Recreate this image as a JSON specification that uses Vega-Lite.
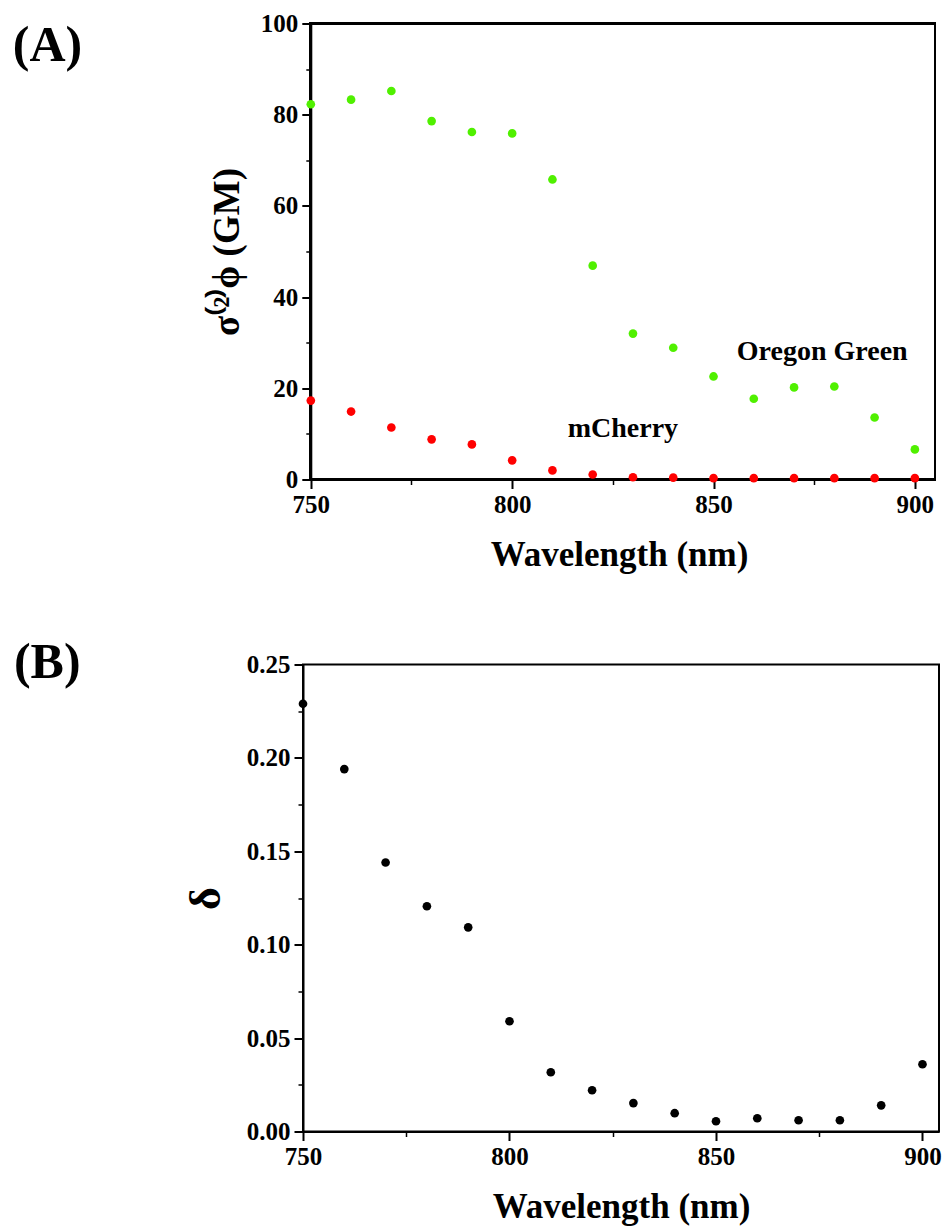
{
  "$schema": "https://vega.github.io/schema/vega-lite/v6.json",
  "padding": {"left": 12, "top": 11.5, "right": 2, "bottom": 2},
  "background": "white",
  "spacing": 64,
  "config": {
    "font": "Liberation Serif",
    "view": {"stroke": "black", "strokeWidth": 2},
    "axis": {
      "labelFont": "Liberation Serif", "labelFontWeight": "bold", "labelFontSize": 25, "labelColor": "black",
      "titleFont": "Liberation Serif", "titleFontWeight": "bold", "titleFontSize": 35, "titleColor": "black",
      "domainColor": "black", "domainWidth": 2, "tickColor": "black", "tickWidth": 2, "grid": false,
      "labelPadding": 4, "labelOverlap": false, "labelFlush": false
    },
    "text": {"font": "Liberation Serif", "fontWeight": "bold", "color": "black"}
  },
  "vconcat": [
    {
      "width": 632, "height": 456,
      "view": {"stroke": null},
      "data": {"values": [
        {"wl": 750, "value": 82.3, "series": "Oregon Green"},
        {"wl": 760, "value": 83.3, "series": "Oregon Green"},
        {"wl": 770, "value": 85.2, "series": "Oregon Green"},
        {"wl": 780, "value": 78.6, "series": "Oregon Green"},
        {"wl": 790, "value": 76.2, "series": "Oregon Green"},
        {"wl": 800, "value": 75.9, "series": "Oregon Green"},
        {"wl": 810, "value": 65.8, "series": "Oregon Green"},
        {"wl": 820, "value": 46.9, "series": "Oregon Green"},
        {"wl": 830, "value": 32.0, "series": "Oregon Green"},
        {"wl": 840, "value": 28.9, "series": "Oregon Green"},
        {"wl": 850, "value": 22.6, "series": "Oregon Green"},
        {"wl": 860, "value": 17.7, "series": "Oregon Green"},
        {"wl": 870, "value": 20.2, "series": "Oregon Green"},
        {"wl": 880, "value": 20.4, "series": "Oregon Green"},
        {"wl": 890, "value": 13.6, "series": "Oregon Green"},
        {"wl": 900, "value": 6.6, "series": "Oregon Green"},
        {"wl": 750, "value": 17.3, "series": "mCherry"},
        {"wl": 760, "value": 14.9, "series": "mCherry"},
        {"wl": 770, "value": 11.4, "series": "mCherry"},
        {"wl": 780, "value": 8.8, "series": "mCherry"},
        {"wl": 790, "value": 7.7, "series": "mCherry"},
        {"wl": 800, "value": 4.2, "series": "mCherry"},
        {"wl": 810, "value": 2.0, "series": "mCherry"},
        {"wl": 820, "value": 1.1, "series": "mCherry"},
        {"wl": 830, "value": 0.5, "series": "mCherry"},
        {"wl": 840, "value": 0.4, "series": "mCherry"},
        {"wl": 850, "value": 0.3, "series": "mCherry"},
        {"wl": 860, "value": 0.3, "series": "mCherry"},
        {"wl": 870, "value": 0.3, "series": "mCherry"},
        {"wl": 880, "value": 0.3, "series": "mCherry"},
        {"wl": 890, "value": 0.3, "series": "mCherry"},
        {"wl": 900, "value": 0.3, "series": "mCherry"}
      ]},
      "layer": [
        {
          "mark": {"type": "rect", "filled": false, "stroke": "black", "strokeWidth": 2, "fill": null},
          "encoding": {
            "x": {"datum": 750, "type": "quantitative", "scale": {"domain": [748.06, 905], "nice": false, "zero": false}, "axis": null},
            "x2": {"datum": 905},
            "y": {"datum": 0, "type": "quantitative", "scale": {"domain": [0, 100], "nice": false}, "axis": null},
            "y2": {"datum": 100}
          }
        },
        {
          "mark": {"type": "point", "filled": true, "size": 75, "opacity": 1, "strokeWidth": 0},
          "encoding": {
            "x": {"field": "wl", "type": "quantitative",
                  "axis": {"orient": "bottom", "values": [750, 800, 850, 900], "tickSize": 9, "domain": false, "title": "Wavelength (nm)", "titlePadding": 20}},
            "y": {"field": "value", "type": "quantitative",
                  "axis": {"orient": "left", "offset": -7.8, "values": [0, 20, 40, 60, 80, 100], "tickSize": 9, "title": "σ⁽²⁾ϕ (GM)", "titleFontSize": 37, "titlePadding": 14}},
            "color": {"field": "series", "type": "nominal", "scale": {"domain": ["Oregon Green", "mCherry"], "range": ["#50f000", "#ff0000"]}, "legend": null}
          }
        },
        {
          "mark": {"type": "point", "opacity": 0},
          "encoding": {
            "x": {"field": "wl", "type": "quantitative",
                  "axis": {"orient": "bottom", "values": [775, 825, 875], "tickSize": 5, "tickWidth": 1.5, "labels": false, "domain": false, "title": null}},
            "y": {"field": "value", "type": "quantitative",
                  "axis": {"orient": "left", "offset": -7.8, "values": [10, 30, 50, 70, 90], "tickSize": 5, "tickWidth": 1.5, "labels": false, "domain": false, "title": null}}
          }
        },
        {
          "data": {"values": [
            {"wl": 877, "value": 28, "label": "Oregon Green"},
            {"wl": 827.5, "value": 11, "label": "mCherry"}
          ]},
          "mark": {"type": "text", "fontSize": 28, "align": "center", "baseline": "middle"},
          "encoding": {
            "x": {"field": "wl", "type": "quantitative", "axis": null},
            "y": {"field": "value", "type": "quantitative", "axis": null},
            "text": {"field": "label"}
          }
        },
        {
          "data": {"values": [{"wl": 676, "value": 95, "label": "(A)"}]},
          "mark": {"type": "text", "fontSize": 50, "align": "left", "baseline": "middle"},
          "encoding": {
            "x": {"field": "wl", "type": "quantitative", "axis": null},
            "y": {"field": "value", "type": "quantitative", "axis": null},
            "text": {"field": "label"}
          }
        }
      ],
      "resolve": {"axis": {"x": "independent", "y": "independent"}}
    },
    {
      "width": 636, "height": 467,
      "data": {"values": [
        {"wl": 750, "delta": 0.229},
        {"wl": 760, "delta": 0.194},
        {"wl": 770, "delta": 0.144},
        {"wl": 780, "delta": 0.1206},
        {"wl": 790, "delta": 0.1093},
        {"wl": 800, "delta": 0.059},
        {"wl": 810, "delta": 0.0317},
        {"wl": 820, "delta": 0.0221},
        {"wl": 830, "delta": 0.0152},
        {"wl": 840, "delta": 0.0098},
        {"wl": 850, "delta": 0.0055},
        {"wl": 860, "delta": 0.0071},
        {"wl": 870, "delta": 0.006},
        {"wl": 880, "delta": 0.006},
        {"wl": 890, "delta": 0.014},
        {"wl": 900, "delta": 0.036}
      ]},
      "layer": [
        {
          "mark": {"type": "point", "filled": true, "size": 75, "opacity": 1, "strokeWidth": 0, "color": "black"},
          "encoding": {
            "x": {"field": "wl", "type": "quantitative", "scale": {"domain": [750, 904], "nice": false, "zero": false},
                  "axis": {"orient": "bottom", "values": [750, 800, 850, 900], "tickSize": 9, "title": "Wavelength (nm)", "titlePadding": 20}},
            "y": {"field": "delta", "type": "quantitative", "scale": {"domain": [0, 0.25], "nice": false},
                  "axis": {"orient": "left", "values": [0, 0.05, 0.1, 0.15, 0.2, 0.25], "format": ".2f", "tickSize": 9, "title": "δ", "titleFontSize": 44, "titlePadding": 18}}
          }
        },
        {
          "mark": {"type": "point", "opacity": 0},
          "encoding": {
            "x": {"field": "wl", "type": "quantitative",
                  "axis": {"orient": "bottom", "values": [775, 825, 875], "tickSize": 5, "tickWidth": 1.5, "labels": false, "domain": false, "title": null}},
            "y": {"field": "delta", "type": "quantitative",
                  "axis": {"orient": "left", "values": [0.025, 0.075, 0.125, 0.175, 0.225], "tickSize": 5, "tickWidth": 1.5, "labels": false, "domain": false, "title": null}}
          }
        },
        {
          "data": {"values": [{"wl": 680, "delta": 0.251, "label": "(B)"}]},
          "mark": {"type": "text", "fontSize": 50, "align": "left", "baseline": "middle"},
          "encoding": {
            "x": {"field": "wl", "type": "quantitative", "axis": null},
            "y": {"field": "delta", "type": "quantitative", "axis": null},
            "text": {"field": "label"}
          }
        }
      ],
      "resolve": {"axis": {"x": "independent", "y": "independent"}}
    }
  ]
}
